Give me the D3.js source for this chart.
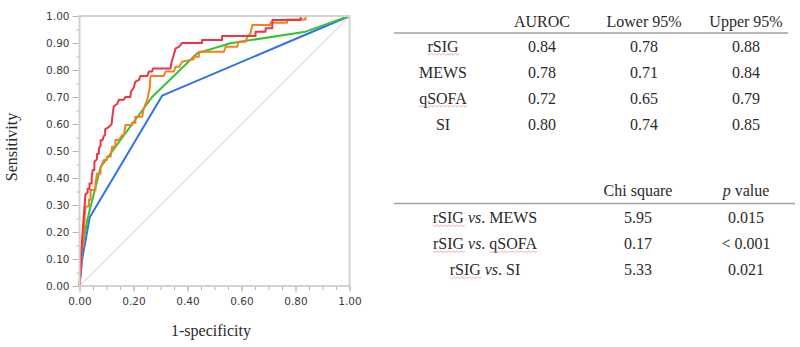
<!DOCTYPE html>
<html>
<head>
<meta charset="utf-8">
<script src="https://cdn.jsdelivr.net/npm/d3@7/dist/d3.min.js"></script>
<style>
  body { margin: 0; background: #fff; }
  svg { display: block; }
  .tick text { font-family: "DejaVu Sans", Verdana, sans-serif; font-size: 10.5px; fill: #3a3a3a; }
  .tick line { stroke: #b4b4b4; }
  .tbl { font-family: "Liberation Serif", "Times New Roman", serif; font-size: 16px; fill: #2a2a2a; }
</style>
</head>
<body>
<svg id="chart" width="800" height="347"></svg>
<script>
// ROC curves, [1-specificity, sensitivity] vertices
const rsigRoc = [[0,0],[0.004,0.06],[0.008,0.15],[0.015,0.25],[0.022,0.34],[0.03,0.345],[0.03,0.36],[0.037,0.36],
  [0.037,0.38],[0.045,0.38],[0.045,0.40],[0.049,0.43],[0.055,0.43],[0.055,0.46],[0.065,0.47],[0.065,0.49],
  [0.072,0.49],[0.072,0.51],[0.078,0.52],[0.078,0.54],[0.085,0.54],[0.09,0.555],[0.095,0.56],[0.095,0.58],
  [0.102,0.585],[0.11,0.59],[0.119,0.60],[0.122,0.63],[0.127,0.665],[0.14,0.675],[0.146,0.69],[0.164,0.69],
  [0.17,0.70],[0.188,0.70],[0.191,0.72],[0.201,0.735],[0.207,0.757],[0.22,0.763],[0.226,0.778],[0.251,0.778],
  [0.257,0.794],[0.269,0.794],[0.272,0.806],[0.337,0.806],[0.34,0.825],[0.347,0.849],[0.356,0.88],[0.368,0.886],
  [0.38,0.90],[0.454,0.90],[0.454,0.911],[0.528,0.911],[0.528,0.926],[0.652,0.926],[0.652,0.942],[0.689,0.942],
  [0.689,0.955],[0.714,0.955],[0.714,0.985],[0.819,0.985],[0.819,1.0],[1,1]];
const siRoc = [[0,0],[0.004,0.08],[0.007,0.146],[0.014,0.146],[0.016,0.2],[0.022,0.294],[0.035,0.294],[0.035,0.319],
  [0.041,0.319],[0.041,0.356],[0.059,0.356],[0.059,0.38],[0.065,0.417],[0.078,0.417],[0.078,0.436],[0.09,0.467],
  [0.102,0.467],[0.102,0.479],[0.115,0.479],[0.121,0.516],[0.133,0.516],[0.133,0.541],[0.146,0.541],[0.158,0.559],
  [0.165,0.559],[0.17,0.596],[0.195,0.596],[0.195,0.605],[0.207,0.605],[0.207,0.627],[0.232,0.627],[0.238,0.658],
  [0.251,0.689],[0.26,0.732],[0.263,0.778],[0.312,0.778],[0.319,0.794],[0.349,0.794],[0.356,0.812],[0.37,0.812],
  [0.38,0.831],[0.423,0.84],[0.423,0.849],[0.442,0.849],[0.442,0.868],[0.535,0.868],[0.541,0.886],[0.584,0.886],
  [0.59,0.905],[0.615,0.905],[0.621,0.921],[0.633,0.936],[0.64,0.967],[0.707,0.967],[0.707,0.975],[0.769,0.975],
  [0.769,0.987],[0.837,0.987],[0.837,1.0],[1,1]];
const mewsRoc = [[0,0],[0.01,0.14],[0.03,0.25],[0.078,0.44],[0.269,0.70],[0.436,0.862],[0.559,0.899],[0.837,0.942],[1,1]];
const qsofaRoc = [[0,0],[0.01,0.1],[0.038,0.255],[0.306,0.705],[1,1]];
const refLine = [[0,0],[1,1]];

const yTicks = d3.range(0, 1.001, 0.1);
const xTicks = d3.range(0, 1.001, 0.2);
const minorTicks = d3.range(0, 1.001, 0.05);

// tables
const aucHeaders = ["AUROC", "Lower 95%", "Upper 95%"];
const aucModels = ["rSIG", "MEWS", "qSOFA", "SI"];
const aucValues = ["0.84", "0.78", "0.72", "0.80"];
const aucLower = ["0.78", "0.71", "0.65", "0.74"];
const aucUpper = ["0.88", "0.84", "0.79", "0.85"];

const cmpHeaders = ["Chi square", "p value"];
const cmpModels = ["MEWS", "qSOFA", "SI"];
const cmpChi = ["5.95", "0.17", "5.33"];
const cmpP = ["0.015", "< 0.001", "0.021"];

const svg = d3.select('#chart');
svg.append('rect').attr('width', 800).attr('height', 347).attr('fill', '#fff');

const x = d3.scaleLinear().domain([0, 1]).range([79.5, 349.5]);
const y = d3.scaleLinear().domain([0, 1]).range([286, 16]);

// minor ticks first
svg.append('g')
    .attr('transform', `translate(${x(0)},0)`)
    .call(d3.axisLeft(y).tickValues(minorTicks).tickSize(3).tickFormat(''))
    .call(g => g.select('.domain').remove());
svg.append('g')
    .attr('transform', `translate(0,${y(0)})`)
    .call(d3.axisBottom(x).tickValues(minorTicks).tickSize(4).tickFormat(''))
    .call(g => g.select('.domain').remove());

svg.append('g')
    .attr('transform', `translate(${x(0)},0)`)
    .call(d3.axisLeft(y).tickValues(yTicks).tickSize(7).tickPadding(3).tickFormat(d3.format('.2f')))
    .call(g => g.select('.domain').remove());
svg.append('g')
    .attr('transform', `translate(0,${y(0)})`)
    .call(d3.axisBottom(x).tickValues(xTicks).tickSize(6).tickPadding(6).tickFormat(d3.format('.2f')))
    .call(g => g.select('.domain').remove());

const line = d3.line().x(d => x(d[0])).y(d => y(d[1]));

svg.append('path').datum(refLine).attr('d', line)
    .attr('fill', 'none').attr('stroke', '#c4c4c4').attr('stroke-width', 1);

const curves = [
  {data: qsofaRoc, color: '#3070f0'},
  {data: mewsRoc, color: '#33c433'},
  {data: siRoc, color: '#f38020'},
  {data: rsigRoc, color: '#ee3548'}
];
curves.forEach(c => {
  svg.append('path').datum(c.data).attr('d', line)
      .attr('fill', 'none').attr('stroke', c.color).attr('stroke-width', 2)
      .attr('stroke-linejoin', 'round');
});

// plot frame
svg.append('rect')
    .attr('x', x(0)).attr('y', y(1))
    .attr('width', x(1) - x(0)).attr('height', y(0) - y(1))
    .attr('fill', 'none').attr('stroke', '#d2d2d2').attr('stroke-width', 2);

// axis titles
svg.append('text')
    .attr('transform', 'translate(17,147) rotate(-90)')
    .attr('text-anchor', 'middle')
    .attr('class', 'tbl')
    .text('Sensitivity');
svg.append('text')
    .attr('x', 211).attr('y', 336)
    .attr('text-anchor', 'middle')
    .attr('class', 'tbl')
    .text('1-specificity');

// spell-check squiggle under a character range of a text element
function squiggle(textEl, from, to) {
  const a = textEl.getExtentOfChar(from);
  const b = textEl.getExtentOfChar(to);
  const x0 = a.x, x1 = b.x + b.width;
  const yy = a.y + a.height - 1;
  let d = `M${x0},${yy}`;
  for (let px = x0, k = 0; px < x1; px += 2, k++) d += `L${px + 2},${yy + (k % 2 ? 0 : 1.5)}`;
  svg.append('path').attr('d', d).attr('fill', 'none')
      .attr('stroke', '#e79a9a').attr('stroke-width', 0.8);
}

// AUROC table
const colX1 = [542, 644, 746];
const rowY1 = i => 51.5 + i * 26;
const t1 = svg.append('g').attr('class', 'tbl');
t1.selectAll('.h').data(aucHeaders).join('text')
    .attr('x', (d, i) => colX1[i]).attr('y', 26.5)
    .attr('text-anchor', 'middle').text(d => d);
svg.append('line').attr('x1', 394).attr('x2', 788).attr('y1', 33).attr('y2', 33)
    .attr('stroke', '#a0a0a0').attr('stroke-width', 1.5);
aucModels.forEach((m, i) => {
  const lab = t1.append('text').attr('x', 443).attr('y', rowY1(i))
      .attr('text-anchor', 'middle').text(m);
  if (m === 'rSIG' || m === 'qSOFA') squiggle(lab.node(), 0, m.length - 1);
  [aucValues[i], aucLower[i], aucUpper[i]].forEach((v, j) => {
    t1.append('text').attr('x', colX1[j]).attr('y', rowY1(i))
        .attr('text-anchor', 'middle').text(v);
  });
});

// comparison table
const colX2 = [638, 746];
const rowY2 = i => 223 + i * 26;
const t2 = svg.append('g').attr('class', 'tbl');
t2.append('text').attr('x', colX2[0]).attr('y', 196).attr('text-anchor', 'middle').text(cmpHeaders[0]);
const ph = t2.append('text').attr('x', colX2[1]).attr('y', 196).attr('text-anchor', 'middle');
ph.append('tspan').attr('font-style', 'italic').text('p');
ph.append('tspan').text(' value');
svg.append('line').attr('x1', 394).attr('x2', 795).attr('y1', 203.5).attr('y2', 203.5)
    .attr('stroke', '#a0a0a0').attr('stroke-width', 1.5);
cmpModels.forEach((m, i) => {
  const lab = t2.append('text').attr('x', 485).attr('y', rowY2(i)).attr('text-anchor', 'middle');
  lab.append('tspan').text('rSIG ');
  lab.append('tspan').attr('font-style', 'italic').text('vs');
  lab.append('tspan').text('. ' + m);
  squiggle(lab.node(), 0, 3);
  if (m === 'qSOFA') squiggle(lab.node(), 9, 13);
  t2.append('text').attr('x', colX2[0]).attr('y', rowY2(i)).attr('text-anchor', 'middle').text(cmpChi[i]);
  t2.append('text').attr('x', colX2[1]).attr('y', rowY2(i)).attr('text-anchor', 'middle').text(cmpP[i]);
});
</script>
</body>
</html>
